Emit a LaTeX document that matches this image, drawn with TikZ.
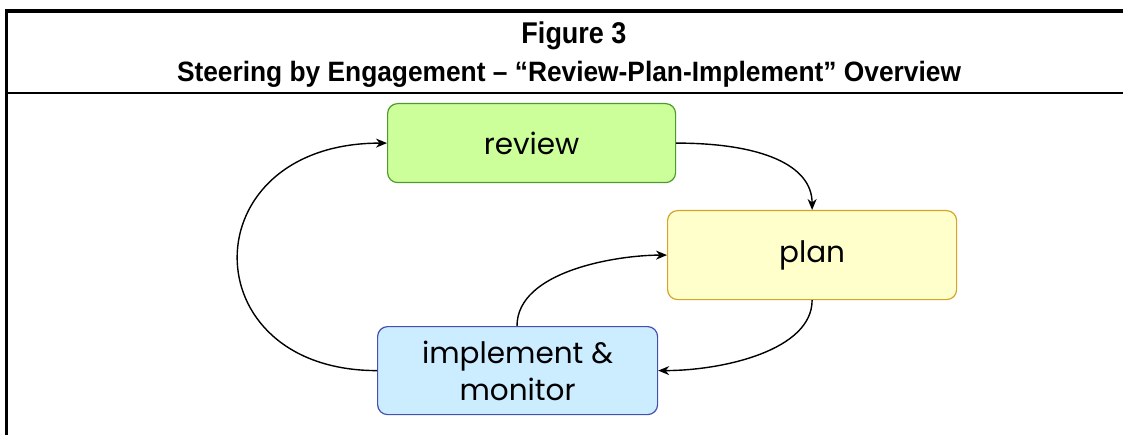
\documentclass[tikz,border=0pt]{standalone}
\usepackage{fontspec}
\setmainfont{Liberation Sans}
\newfontfamily\boxfont{Poppins}
\usetikzlibrary{arrows.meta}
\definecolor{revfill}{HTML}{CCFF99}
\definecolor{revline}{HTML}{4E9A2E}
\definecolor{planfill}{HTML}{FFFFCC}
\definecolor{planline}{HTML}{D6A528}
\definecolor{impfill}{HTML}{CCECFF}
\definecolor{impline}{HTML}{4450B0}
\tikzset{
  stagebox/.style={draw, rounded corners=10pt, line width=1.2pt, inner sep=0pt, anchor=north west,
    font=\boxfont\fontsize{29.5}{37}\selectfont, align=center},
  flow/.style={line width=1.4pt, -{Stealth[length=11pt,width=9pt]}},
  frame/.style={line width=3.5pt},
}
\begin{document}
\begin{tikzpicture}[x=1pt,y=-1pt]
\useasboundingbox (0,0) rectangle (1123,435);
\fill[white] (0,0) rectangle (1123,435);
% frame
\coordinate (tl) at (6.5,11);
\coordinate (tr) at (1123,11);
\coordinate (bl) at (6.5,435);
\coordinate (sl) at (6.5,93);
\coordinate (sr) at (1123,93);
\draw[frame] (bl) -- (tl) -- (tr);
\draw[line width=2.5pt] (sl) -- (sr);
% titles
\node[font=\bfseries\fontsize{30}{30}\selectfont, anchor=base, xscale=0.9] (fig) at (574,44) {Figure 3};
\node[font=\bfseries\fontsize{28}{28}\selectfont, anchor=base, xscale=0.94] (sub) at (569,82) {Steering by Engagement – “Review-Plan-Implement” Overview};
% boxes
\node[stagebox, fill=revfill, draw=revline, minimum width=288pt, minimum height=79pt] (rev) at (387,103) {review};
\node[stagebox, fill=planfill, draw=planline, minimum width=289pt, minimum height=89pt] (plan) at (667,210) {plan};
\node[stagebox, fill=impfill, draw=impline, minimum width=280pt, minimum height=88pt] (imp) at (377,326) {implement \&\\monitor};
% connectors
\coordinate (impt) at (517,326);
\draw[flow] (rev.east) .. controls +(85,0) and +(0,-45) .. (plan.north);
\draw[flow] (plan.south) .. controls +(0,50) and +(65,0) .. (imp.east);
\draw[flow] (impt) .. controls +(0,-55) and +(-50,0) .. (plan.west);
\draw[flow] (imp.west) .. controls +(-187,0) and +(-197,0) .. (rev.west);
\end{tikzpicture}
\end{document}
